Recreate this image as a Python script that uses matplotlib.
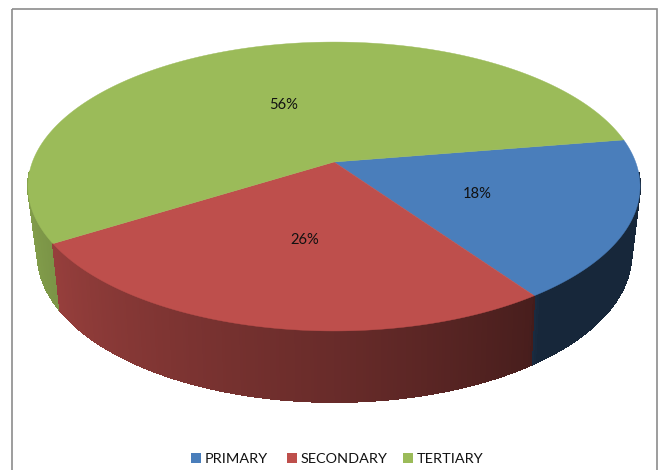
import numpy as np
import matplotlib
matplotlib.use("Agg")
import matplotlib.pyplot as plt
from matplotlib.patches import Rectangle

categories = ["PRIMARY", "SECONDARY", "TERTIARY"]
values = [17.9, 25.8, 56.3]
colors = ["#4A7EBB", "#BE4F4C", "#9BBB59"]

START = -9.3
CX = 334.0
TOP = dict(R=301.6, B=140.3, k=0.1696, y0=162.0, cx=CX)
BOT = dict(R=292.0, B=143.0, k=0.183, y0=227.0, cx=CX + 0.5)
LABEL_DX = [0, 4, -1]


def project(deg, r=1.0, g=TOP):
    a = np.radians(deg)
    u, v = r * np.cos(a), r * np.sin(a)
    d = 1 - g["k"] * v
    return g["cx"] + g["R"] * u / d, g["y0"] + g["B"] * v / d


def shade(deg):
    d = ((deg + 90) % 360) - 90
    return np.interp(d, [-20, 54, 56, 90, 150, 180, 200],
                     [0.31, 0.31, 0.38, 0.55, 0.80, 0.89, 0.89])


fig = plt.figure(figsize=(6.58, 4.70), dpi=100)
ax = fig.add_axes([0, 0, 1, 1])
ax.set_xlim(0, 658)
ax.set_ylim(470, 0)
ax.axis("off")

ax.add_patch(Rectangle((11.5, 8.5), 645, 470, fill=False, ec="#8C8C8C", lw=1.2))

edges = START + np.cumsum([0] + list(values)) * 3.6
rgb = [np.array(matplotlib.colors.to_rgb(c)) for c in colors]

# side wall: only the front of the rim is visible
quads = []
for i in range(3):
    for a in np.arange(edges[i], edges[i + 1], 0.5):
        b = min(a + 0.5, edges[i + 1])
        if 4 <= (a % 360) <= 176:
            quads.append((np.sin(np.radians(a)), a, b, i))
for _, a, b, i in sorted(quads, key=lambda q: q[0]):
    x1, y1 = project(a)
    x2, y2 = project(b)
    x3, y3 = project(b, g=BOT)
    x4, y4 = project(a, g=BOT)
    col = rgb[i] * shade((a + b) / 2)
    ax.fill([x1, x2, x3, x4], [y1, y2, y3, y4], color=col, lw=0.6, ec=col,
            antialiased=False, zorder=2)

# top surface
for i in range(3):
    t = np.linspace(edges[i], edges[i + 1], 200)
    xs, ys = project(t)
    xs = np.r_[project(0, 0)[0], xs]
    ys = np.r_[project(0, 0)[1], ys]
    ax.fill(xs, ys, color=colors[i], lw=0.3, ec=colors[i], zorder=3)

plt.rcParams["font.family"] = ["Lato", "DejaVu Sans"]
for i, val in enumerate(values):
    mid = (edges[i] + edges[i + 1]) / 2
    x, y = project(mid, 0.5)
    ax.text(x + LABEL_DX[i], y + 3.5, f"{round(val)}%", ha="center", va="center",
            fontsize=10.6, color="#111111", zorder=4)

# legend
swatch_x = [191, 287, 403]
for x, name, c in zip(swatch_x, categories, colors):
    ax.add_patch(Rectangle((x, 453), 10, 10, fc=c, ec="none"))
    ax.text(x + 14, 459, name, ha="left", va="center", fontsize=10.4, color="#111111")

fig.savefig("out.png", dpi=100)
